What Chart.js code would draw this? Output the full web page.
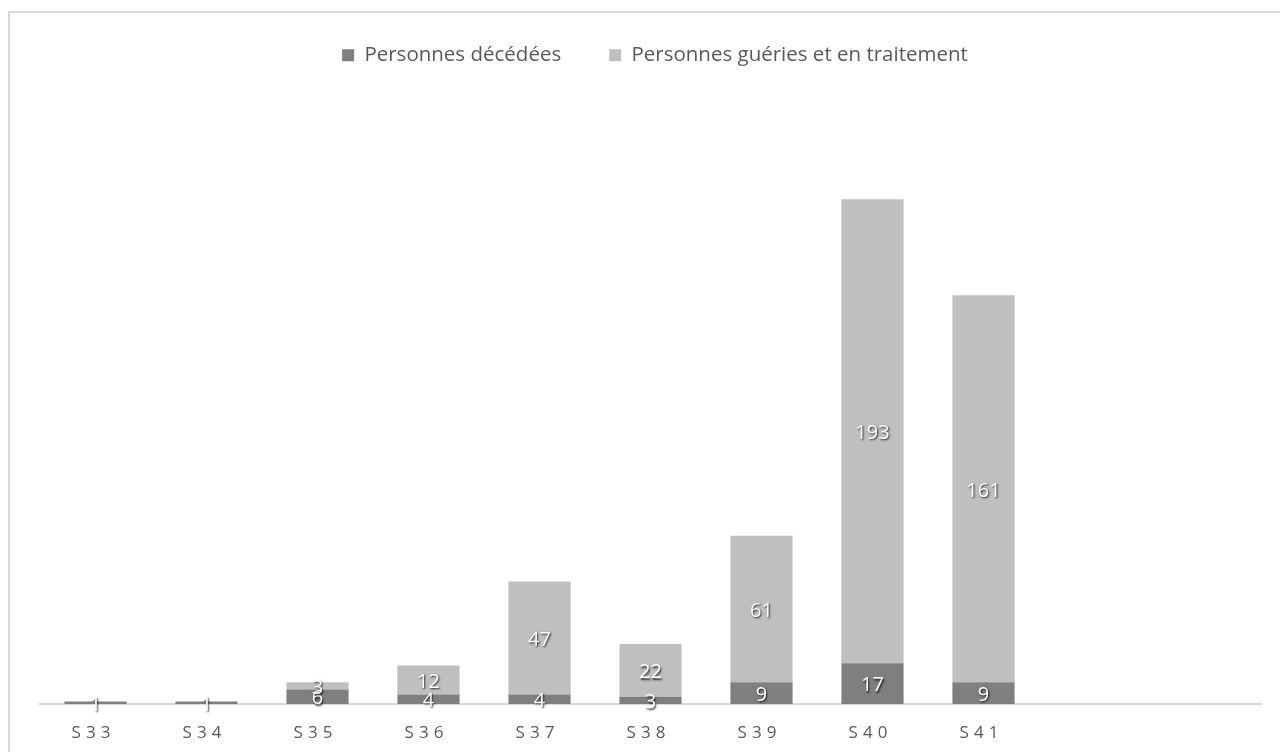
<!DOCTYPE html>
<html>
<head>
<meta charset="utf-8">
<script src="https://cdn.jsdelivr.net/npm/chart.js@4/dist/chart.umd.min.js"></script>
<style>
  html, body { margin: 0; padding: 0; background: #fff; overflow: hidden; }
  .cadre {
    position: absolute; left: 8px; top: 11px; width: 1320px; height: 800px;
    border: 2px solid #d9d9d9; box-sizing: border-box;
  }
  .zone { position: absolute; left: 0; top: 0; width: 1280px; height: 752px; }
</style>
</head>
<body>
<div class="cadre"></div>
<div class="zone"><canvas id="graphique" width="1280" height="752"></canvas></div>
<script>
// ================== DONNÉES ==================

const semaines = ['S33', 'S34', 'S35', 'S36', 'S37', 'S38', 'S39', 'S40', 'S41', '', ''];
const decedes = [1, 1, 6, 4, 4, 3, 9, 17, 9, null, null];
const gueris = [0, 0, 3, 12, 47, 22, 61, 193, 161, null, null];

const texteGris = '#595959';
const police = '"Open Sans", Lato, sans-serif';

// ================== PLUGINS ==================

// marge sous la légende + petit décalage
const margeLegende = {
    id: 'margeLegende',
    beforeInit(chart) {
        const fitOrig = chart.legend.fit;
        chart.legend.fit = function () {
            fitOrig.bind(chart.legend)();
            this.height += 24.5;
        };
    },
    afterLayout(chart) {
        const l = chart.legend;
        l.left += 4.5;
        l.right += 4.5;
        l.top -= 3;
        l.bottom -= 3;
    }
};

// étiquettes blanches au centre des segments
const etiquettes = {
    id: 'etiquettes',
    afterDatasetsDraw(chart) {
        const ctx = chart.ctx;
        ctx.save();
        ctx.font = '20px ' + police;
        ctx.textAlign = 'center';
        ctx.textBaseline = 'middle';
        ctx.fillStyle = '#ffffff';
        ctx.shadowColor = 'rgba(0,0,0,0.8)';
        ctx.shadowOffsetX = 1;
        ctx.shadowOffsetY = 1.5;
        ctx.shadowBlur = 2;
        chart.data.datasets.forEach((ds, i) => {
            chart.getDatasetMeta(i).data.forEach((bar, j) => {
                const v = ds.data[j];
                if (!v) return;
                const p = bar.getCenterPoint();
                ctx.fillText(String(v), p.x, p.y + 2);
            });
        });
        ctx.restore();
    }
};

// libellés de l'axe X espacés
const libellesX = {
    id: 'libellesX',
    afterDraw(chart) {
        const ctx = chart.ctx;
        const x = chart.scales.x;
        ctx.save();
        ctx.font = '17px ' + police;
        ctx.letterSpacing = '5px';
        ctx.fillStyle = texteGris;
        ctx.textAlign = 'center';
        ctx.textBaseline = 'middle';
        semaines.forEach((s, i) => {
            if (!s) return;
            ctx.fillText(s, x.getPixelForTick(i) - 2, 733);
        });
        ctx.restore();
    }
};

// ================== GRAPHIQUE ==================

const ctx = document.getElementById('graphique');

new Chart(ctx, {
    type: 'bar',
    data: {
        labels: semaines,
        datasets: [{
            label: 'Personnes décédées',
            data: decedes,
            backgroundColor: '#7f7f7f',
            barPercentage: 1,
            categoryPercentage: 0.56
        }, {
            label: 'Personnes guéries et en traitement',
            data: gueris,
            backgroundColor: '#bfbfbf',
            barPercentage: 1,
            categoryPercentage: 0.56
        }]
    },
    options: {
        responsive: false,
        animation: false,
        layout: {
            padding: { top: 0, left: 40, right: 19, bottom: 40 }
        },
        plugins: {
            legend: {
                position: 'top',
                labels: {
                    color: texteGris,
                    font: { family: police, size: 20.5 },
                    boxWidth: 12,
                    boxHeight: 12,
                    padding: 48
                }
            },
            tooltip: { enabled: false }
        },
        scales: {
            x: {
                stacked: true,
                grid: { display: false },
                border: { display: true, color: '#d9d9d9', width: 2 },
                ticks: { display: false }
            },
            y: {
                stacked: true,
                display: false,
                min: 0,
                max: 250
            }
        }
    },
    plugins: [margeLegende, etiquettes, libellesX]
});
</script>
</body>
</html>
